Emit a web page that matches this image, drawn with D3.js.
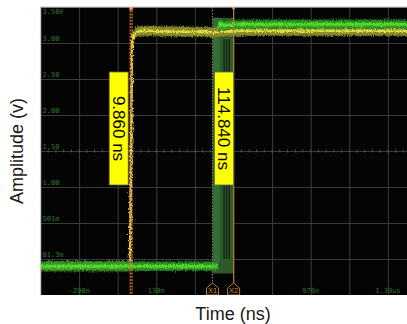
<!DOCTYPE html>
<html>
<head>
<meta charset="utf-8">
<script src="https://cdn.jsdelivr.net/npm/d3@7"></script>
<style>
  html, body { margin: 0; padding: 0; background: #fff; }
  svg { display: block; }
</style>
</head>
<body>
<svg id="chart" width="407" height="324"></svg>
<script>
// Time base: 10 divisions of 210 ns, volts: 8 divisions of 0.5 V
const gridTimes = [-500, -290, -80, 130, 340, 550, 760, 970, 1180, 1390, 1600];
const gridVolts = [3.5, 3.0, 2.5, 2.0, 1.5, 1.0, 0.5, 0.0, -0.5];

const xTickValues = [-290, 130, 970, 1390];
const xTickLabels = ["-290n", "130n", "970n", "1.39us"];
const yTickValues = [3.5, 3.0, 2.5, 2.0, 1.5, 1.0, 0.5, 0.0];
const yTickLabels = ["3.50V", "3.00", "2.50", "2.00", "1.50", "1.00", "501m", "81.3m"];

// Channel 1 (yellow) waveform, ns / V
const yellowTime = [-500, -14, -12, -7, -2.14, 1, 4, 10, 25, 60, 200, 440, 600, 1600];
const yellowVolt = [-0.10, -0.10, 0.20, 1.60, 3.00, 3.12, 3.05, 3.12, 3.16, 3.17, 3.16, 3.15, 3.17, 3.17];

// Channel 2 (green) waveform, ns / V; null marks the edge hidden in persistence
const greenTime = [-500, 464, 466, 470, 478, 500, 550, 700, 1600];
const greenVolt = [-0.10, -0.10, null, 3.20, 3.27, 3.24, 3.26, 3.26, 3.26];

// Persistence spread of the green edge and its darker edge captures
const persistTop = 3.35;
const persistBottom = -0.20;
const persistLines = [499, 513, 527];

// Cursors
const riseCursors = [-12, -2.14];       // pair 9.860 ns apart
const riseDelta = riseCursors[1] - riseCursors[0];
const x1Cursor = 435.8;
const xDelta = 114.84;
const x2Cursor = x1Cursor + xDelta;

const svg = d3.select("#chart");
const L = 40.5, T = 7, B = 295, W = 386;
const x = d3.scaleLinear().domain([-500, 1600]).range([L, L + W]);
const y = d3.scaleLinear().domain([-0.5, 3.5]).range([B, T]);

const defs = svg.append("defs");
defs.append("clipPath").attr("id", "plot")
  .append("rect").attr("x", L).attr("y", T).attr("width", 407 - L).attr("height", B - T);

// grain for the sampled traces
const grain = defs.append("filter").attr("id", "grain")
  .attr("x", "-5%").attr("y", "-20%").attr("width", "110%").attr("height", "140%");
grain.append("feTurbulence").attr("type", "fractalNoise")
  .attr("baseFrequency", "0.9 0.5").attr("numOctaves", 2).attr("seed", 3).attr("result", "n");
grain.append("feDisplacementMap").attr("in", "SourceGraphic").attr("in2", "n")
  .attr("scale", 5).attr("xChannelSelector", "R").attr("yChannelSelector", "G");

const plot = svg.append("g").attr("clip-path", "url(#plot)");

// screen background
plot.append("rect").attr("x", L).attr("y", T).attr("width", 407 - L).attr("height", B - T)
  .attr("fill", "#040404");

// graticule
const gridX = plot.append("g").attr("transform", `translate(0,${B})`)
  .call(d3.axisBottom(x).tickValues(gridTimes).tickSize(-(B - T)).tickFormat(""));
const gridY = plot.append("g").attr("transform", `translate(${L},0)`)
  .call(d3.axisLeft(y).tickValues(gridVolts).tickSize(-W).tickFormat(""));
[gridX, gridY].forEach(g => {
  g.select(".domain").remove();
  g.selectAll("line").attr("stroke", "#3c3c3c").attr("stroke-width", 1);
});

// minor ticks on the centre horizontal line
const minor = d3.range(-500, 1600, 42);
plot.append("g").selectAll("line").data(minor).join("line")
  .attr("x1", d => x(d)).attr("x2", d => x(d))
  .attr("y1", y(1.5) - 1.5).attr("y2", y(1.5) + 1.5)
  .attr("stroke", "#555").attr("stroke-width", 1);

// persistence block of the green edge
plot.append("rect")
  .attr("x", x(x1Cursor)).attr("y", y(persistTop))
  .attr("width", x(x2Cursor) - x(x1Cursor)).attr("height", y(persistBottom) - y(persistTop))
  .attr("fill", "#2c5a29");
plot.append("rect")
  .attr("x", x(x1Cursor) + 1).attr("y", y(persistTop))
  .attr("width", x(470) - x(x1Cursor)).attr("height", y(-0.05) - y(persistTop))
  .attr("fill", "#356e36");
plot.append("g").selectAll("line").data(persistLines).join("line")
  .attr("x1", d => x(d)).attr("x2", d => x(d))
  .attr("y1", y(3.05)).attr("y2", y(0.0))
  .attr("stroke", "#142414").attr("stroke-width", 1.4);

// traces as bands with a brighter core
function pts(times, volts) { return times.map((t, i) => [t, volts[i]]); }
function band(times, volts, half) {
  return d3.area().defined(d => d[1] !== null)
    .x(d => x(d[0])).y0(d => y(d[1] - half)).y1(d => y(d[1] + half))(pts(times, volts));
}
function core(times, volts) {
  return d3.line().defined(d => d[1] !== null)
    .x(d => x(d[0])).y(d => y(d[1]))(pts(times, volts));
}

const traces = plot.append("g").attr("filter", "url(#grain)");
traces.append("path").attr("d", band(yellowTime, yellowVolt, 0.065))
  .attr("fill", "#8a8a2a").attr("stroke", "#6f6f22").attr("stroke-width", 1);
traces.append("path").attr("d", core(yellowTime, yellowVolt))
  .attr("fill", "none").attr("stroke", "#dede48").attr("stroke-width", 2.5);

traces.append("path").attr("d", band(greenTime, greenVolt, 0.06))
  .attr("fill", "#2f9a28").attr("stroke", "#2a7a25").attr("stroke-width", 1).attr("opacity", 0.92);
traces.append("path").attr("d", core(greenTime, greenVolt))
  .attr("fill", "none").attr("stroke", "#52dc2c").attr("stroke-width", 3);

// rise-time cursor pair (orange dashed)
plot.append("g").selectAll("line").data(riseCursors).join("line")
  .attr("x1", d => x(d)).attr("x2", d => x(d)).attr("y1", T).attr("y2", B)
  .attr("stroke", "#e0783a").attr("stroke-width", 1.2).attr("stroke-dasharray", "2,1.2");
plot.append("circle").attr("cx", x(riseCursors[0] + riseDelta / 2)).attr("cy", T + 1.5).attr("r", 2)
  .attr("fill", "#f08a4a");

// X1 / X2 cursors
plot.append("line").attr("x1", x(x1Cursor)).attr("x2", x(x1Cursor)).attr("y1", T).attr("y2", B - 10)
  .attr("stroke", "#9a8060").attr("stroke-width", 1).attr("stroke-dasharray", "1.5,1.5");
plot.append("line").attr("x1", x(x2Cursor)).attr("x2", x(x2Cursor)).attr("y1", T).attr("y2", B - 10)
  .attr("stroke", "#c88236").attr("stroke-width", 1);
plot.append("circle").attr("cx", x(x2Cursor)).attr("cy", T + 1).attr("r", 1.6).attr("fill", "#d08a3a");

// scale labels inside the screen
const labelFont = "'DejaVu Sans Mono', monospace";
plot.append("g").selectAll("text").data(yTickValues).join("text")
  .attr("x", L + 2)
  .attr("y", (d, i) => i === 0 ? T + 7 : y(d) - 2)
  .attr("font-family", labelFont).attr("font-size", 7).attr("fill", "#2d7a2d")
  .text((d, i) => yTickLabels[i]);
plot.append("g").selectAll("text").data(xTickValues).join("text")
  .attr("x", d => x(d)).attr("y", B - 2)
  .attr("text-anchor", "middle")
  .attr("font-family", labelFont).attr("font-size", 7).attr("fill", "#2d7a2d")
  .text((d, i) => xTickLabels[i]);

// cursor markers at the bottom edge
const markers = [{t: x1Cursor, name: "X1"}, {t: x2Cursor, name: "X2"}];
const mk = plot.append("g").selectAll("g").data(markers).join("g")
  .attr("transform", d => `translate(${x(d.t)},${B})`);
mk.append("path").attr("d", "M0,-12 L6,-7 L6,0 L-6,0 L-6,-7 Z")
  .attr("fill", "#050505").attr("stroke", "#b87a30").attr("stroke-width", 1);
mk.append("text").attr("y", -2).attr("text-anchor", "middle")
  .attr("font-family", "'Liberation Sans', Arial, sans-serif").attr("font-size", 7.5)
  .attr("fill", "#c88a40").text(d => d.name);

// frame
svg.append("path").attr("d", `M${L},${B} L${L},${T} L407,${T}`)
  .attr("fill", "none").attr("stroke", "#c8c8c8").attr("stroke-width", 1.2);

// yellow readout boxes
const readouts = [
  {label: riseDelta.toFixed(3) + " ns", x0: x(riseCursors[0]) - 21, x1: x(riseCursors[0]) - 2},
  {label: xDelta.toFixed(3) + " ns", x0: x(x1Cursor) + 2, x1: x(x2Cursor)}
];
const rg = svg.append("g").selectAll("g").data(readouts).join("g");
rg.append("rect")
  .attr("x", d => d.x0).attr("y", 72).attr("width", d => d.x1 - d.x0).attr("height", 113)
  .attr("fill", "#ffff00").attr("stroke", "#5a6a5a").attr("stroke-width", 0.8);
rg.append("text")
  .attr("transform", d => `translate(${(d.x0 + d.x1) / 2},${72 + 113 / 2}) rotate(90)`)
  .attr("text-anchor", "middle").attr("dy", "0.35em")
  .attr("font-family", "'Liberation Sans', Arial, sans-serif").attr("font-size", 17)
  .attr("fill", "#000").text(d => d.label);

// axis titles
svg.append("text").attr("transform", `translate(23,${(T + B) / 2}) rotate(-90)`)
  .attr("text-anchor", "middle")
  .attr("font-family", "'Liberation Sans', Arial, sans-serif").attr("font-size", 18)
  .attr("fill", "#1a1a1a").text("Amplitude (v)");
svg.append("text").attr("x", 233).attr("y", 320)
  .attr("text-anchor", "middle")
  .attr("font-family", "'Liberation Sans', Arial, sans-serif").attr("font-size", 18)
  .attr("fill", "#1a1a1a").text("Time (ns)");
</script>
</body>
</html>
